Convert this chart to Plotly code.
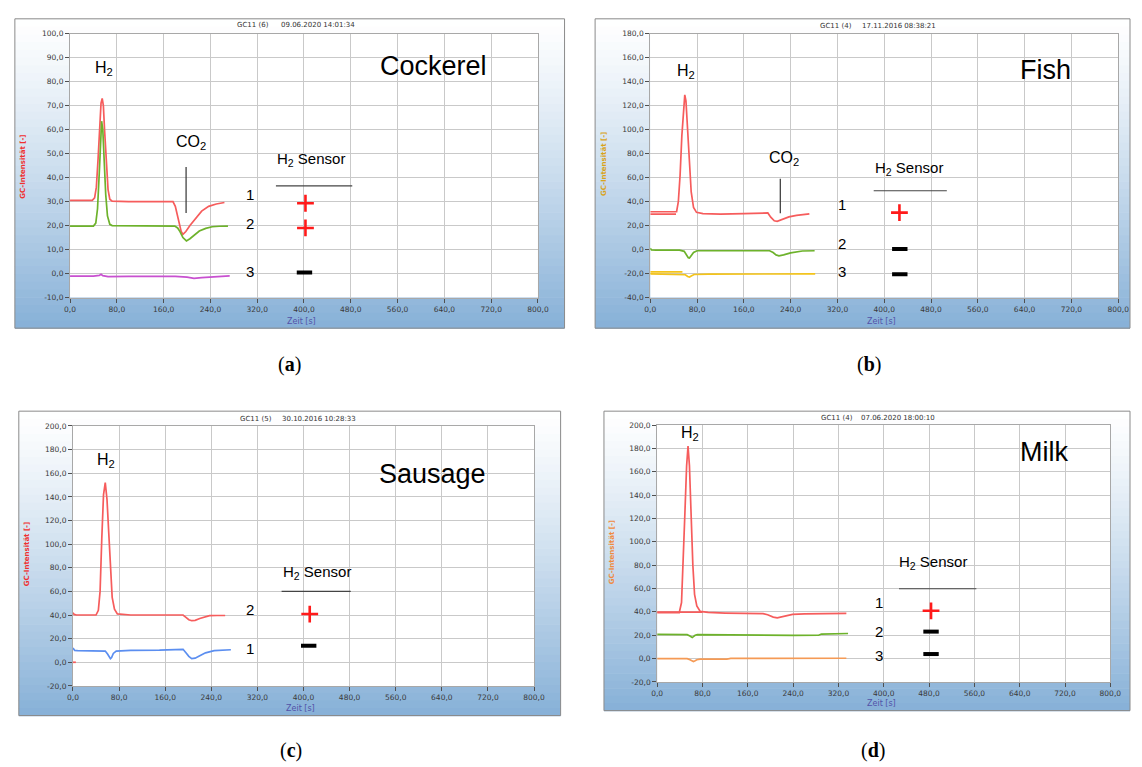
import plotly.graph_objects as go

W, H = 1142, 767

# ---------------- data ----------------
x_ticks = [0, 80, 160, 240, 320, 400, 480, 560, 640, 720, 800]
a_y_ticks = [-10, 0, 10, 20, 30, 40, 50, 60, 70, 80, 90, 100]
b_y_ticks = [-40, -20, 0, 20, 40, 60, 80, 100, 120, 140, 160, 180]
c_y_ticks = [-20, 0, 20, 40, 60, 80, 100, 120, 140, 160, 180, 200]
d_y_ticks = [-20, 0, 20, 40, 60, 80, 100, 120, 140, 160, 180, 200]


def fmt(v):
    return f"{v:.1f}".replace(".", ",")


# (a) Cockerel
a_red_t = [0, 38, 42, 45, 48, 51, 53, 55, 57, 59, 62, 65, 68, 72, 100, 140, 176, 180, 185, 190, 193, 198, 205, 215, 225, 237, 250, 264]
a_red_v = [30.5, 30.5, 31.5, 36, 48, 63, 71, 73, 70, 60, 45, 35, 31, 30.2, 30, 30, 30, 28, 22, 17.5, 16.3, 17.5, 20, 23.2, 26, 28, 29, 29.6]
a_green_t = [0, 40, 44, 47, 50, 52, 54, 56, 58, 61, 64, 68, 72, 100, 140, 179, 184, 188, 193, 199, 205, 212, 221, 232, 243, 255, 270]
a_green_v = [19.8, 19.8, 21, 27, 42, 56, 63.5, 60, 48, 33, 24, 20.5, 20, 20, 19.8, 19.8, 19, 17.5, 15, 13.6, 14.5, 16, 17.7, 18.8, 19.5, 19.7, 19.8]
a_mag_t = [0, 20, 40, 50, 53, 56, 65, 100, 140, 180, 200, 212, 225, 250, 273]
a_mag_v = [-1.1, -1.2, -1.1, -0.8, -0.3, -0.9, -1.3, -1.2, -1.1, -1.2, -1.5, -2.0, -1.7, -1.4, -1.0]

# (b) Fish
b_red_t = [0, 45, 48, 51, 54, 57, 59, 61, 64, 67, 70, 74, 79, 90, 120, 160, 201, 206, 212, 217, 225, 237, 250, 262, 272]
b_red_v = [31.5, 31.5, 40, 62, 95, 120, 129, 124, 100, 70, 48, 35, 31, 30, 29.5, 30, 30.5, 27, 24, 23.5, 25, 27.2, 28.5, 29.2, 29.8]
b_red2_t = [0, 44]
b_red2_v = [29.5, 29.5]
b_green_t = [0, 2, 10, 50, 58, 62, 65, 67, 70, 74, 80, 120, 160, 204, 210, 215, 220, 228, 240, 260, 281]
b_green_v = [1.2, -0.3, -0.5, -0.5, -1.5, -4.5, -6.8, -7.1, -5, -2.5, -1, -1, -1, -1, -2.5, -4.5, -5.2, -4.5, -2.8, -1.2, -1]
b_yel_t = [0, 50, 60, 64, 67, 70, 75, 100, 160, 220, 240, 282]
b_yel_v = [-20.3, -20.5, -21, -22.5, -23, -22, -20.8, -20.5, -20.5, -20.3, -20.5, -20.3]
b_yel2_t = [0, 55]
b_yel2_v = [-18.7, -18.7]

# (c) Sausage
c_red_t = [0, 2, 6, 40, 44, 47, 50, 53, 56, 59, 62, 65, 68, 72, 77, 100, 140, 191, 196, 201, 206, 212, 220, 237, 250, 264]
c_red_v = [42, 40.5, 40, 40, 44, 60, 105, 142, 152, 138, 110, 75, 55, 45, 41, 40, 40, 40, 38, 36, 35.2, 35.5, 37, 39.5, 39.6, 39.6]
c_red2_t = [0, 5]
c_red2_v = [0, 0]
c_blue_t = [0, 3, 8, 50, 56, 60, 63, 65, 67, 70, 75, 100, 150, 191, 196, 201, 206, 212, 220, 230, 245, 260, 274]
c_blue_v = [12, 10, 9.8, 9.8, 9.5, 7, 4.5, 3.1, 4, 7.5, 9.5, 10, 10.3, 11, 8, 5, 3.1, 3.5, 5.5, 8, 9.8, 10.3, 10.6]

# (d) Milk
d_red_t = [0, 39, 43, 46, 49, 52, 54.5, 57, 60, 63, 66, 70, 76, 90, 120, 160, 187, 195, 205, 212, 220, 239, 260, 300, 334]
d_red_v = [39.3, 39.3, 48, 80, 125, 165, 182, 165, 120, 80, 55, 45, 40.4, 39.5, 39, 38.8, 38.5, 37.5, 35.5, 34.8, 35.8, 37.9, 38.3, 38.5, 38.7]
d_red2_t = [0, 80]
d_red2_v = [39.8, 39.8]
d_green_t = [0, 53, 57, 60, 62, 64, 67, 71, 100, 117, 200, 215, 240, 285, 290, 337]
d_green_v = [20.8, 20.5, 19.5, 18.5, 18.1, 18.8, 20, 20.5, 20.3, 20, 20, 19.5, 19.8, 20, 21, 21.5]
d_orange_t = [0, 53, 58, 61, 64, 67, 70, 76, 100, 123, 130, 233, 240, 300, 334]
d_orange_v = [0, 0, -1, -2, -2.5, -1.8, -1, -0.5, -0.5, -0.4, 0.2, 0.3, 0.6, 0.6, 0.3]

sample_names = ["Cockerel", "Fish", "Sausage", "Milk"]
headers = [("GC11 (6)", "09.06.2020 14:01:34"), ("GC11 (4)", "17.11.2016 08:38:21"),
           ("GC11 (5)", "30.10.2016 10:28:33"), ("GC11 (4)", "07.06.2020 18:00:10")]
panel_letters = ["a", "b", "c", "d"]
# sensor response signs per panel: (label, sign)
sensor_a = [("1", "+"), ("2", "+"), ("3", "-")]
sensor_b = [("1", "+"), ("2", "-"), ("3", "-")]
sensor_c = [("2", "+"), ("1", "-")]
sensor_d = [("1", "+"), ("2", "-"), ("3", "-")]

RED = "#f65c5c"
GREEN = "#6db22b"
MAGENTA = "#c850d0"
YELLOW = "#f4c41a"
BLUE = "#5b8ef0"
ORANGE = "#f59a55"

LABEL_FONT = "Liberation Sans, Arial, sans-serif"
SMALL_FONT = "DejaVu Sans, Verdana, sans-serif"

# ---------------- layout geometry (pixels) ----------------
panels = [
    dict(id=1, plot=(65, 540, 30, 297), box=(9, 567, 15, 328), yr=(-10, 100), yt=a_y_ticks,
         ycol="#f03030", ytitle=(17, 165), xtitle=(300, 321), hdr=(250.5, 317, 21), lab=(288, 365),
         traces=[(a_red_t, a_red_v, RED), (a_green_t, a_green_v, GREEN), (a_mag_t, a_mag_v, MAGENTA)],
         sensor=sensor_a),
    dict(id=2, plot=(654, 1129, 30, 297), box=(598, 1141, 15, 328), yr=(-40, 180), yt=b_y_ticks,
         ycol="#d9a31a", ytitle=(607, 162), xtitle=(889, 321), hdr=(843, 906.5, 22), lab=(876, 365),
         traces=[(b_red_t, b_red_v, RED), (b_red2_t, b_red2_v, RED), (b_green_t, b_green_v, GREEN),
                 (b_yel_t, b_yel_v, YELLOW), (b_yel2_t, b_yel2_v, YELLOW)],
         sensor=sensor_b),
    dict(id=3, plot=(68, 536, 427, 690), box=(13, 563, 412, 720), yr=(-20, 200), yt=c_y_ticks,
         ycol="#f03030", ytitle=(22, 557), xtitle=(299, 713), hdr=(253.5, 317.5, 420), lab=(289, 755),
         traces=[(c_red_t, c_red_v, RED), (c_red2_t, c_red2_v, RED), (c_blue_t, c_blue_v, BLUE)],
         sensor=sensor_c),
    dict(id=4, plot=(661, 1121, 426, 686), box=(607, 1141, 412, 715), yr=(-20, 200), yt=d_y_ticks,
         ycol="#f08a40", ytitle=(616, 555), xtitle=(889, 708), hdr=(844, 905.5, 419), lab=(880, 755),
         traces=[(d_red_t, d_red_v, RED), (d_red2_t, d_red2_v, RED), (d_green_t, d_green_v, GREEN),
                 (d_orange_t, d_orange_v, ORANGE)],
         sensor=sensor_d),
]

# annotation placements in data units (per panel)
place = {
    1: dict(h2=(57.5, 85.6), co2=(206.8, 54.7), co2line=(198.4, 25.2, 44.4),
            sens=(411.7, 47.7), sensline=(352, 482.5, 36.5), name=(621.7, 86.4),
            nums=[(308, 33.0), (308, 20.9), (308, 0.7)],
            signs=[(402.5, 29.3), (402.5, 19.0), (400.8, 0.4)]),
    2: dict(h2=(60.6, 148.4), co2=(229, 75.6), co2line=(222.3, 30.3, 59.1),
            sens=(442, 67.4), sensline=(382, 507, 49), name=(676, 149.3),
            nums=[(327, 37.2), (327, 5.0), (327, -18.3)],
            signs=[(426, 30.8), (426.6, 0.4), (426.6, -20.5)]),
    3: dict(h2=(57.6, 171), co2=None, co2line=None,
            sens=(424, 76.2), sensline=(362, 482, 60), name=(624, 159.3),
            nums=[(308, 44.7), (308, 11.5)],
            signs=[(410.8, 40.8), (409, 14.0)]),
    4: dict(h2=(57.4, 192.4), co2=None, co2line=None,
            sens=(487, 82.4), sensline=(427, 563.5, 59.8), name=(683, 176.9),
            nums=[(392.5, 47.7), (392.5, 23.2), (392.5, 2.8)],
            signs=[(483.5, 40.9), (483.5, 23.1), (483.5, 3.9)]),
}

fig = go.Figure()
shapes = []
annotations = []
layout_axes = {}


def lerp_col(t):
    top = (255, 255, 255)
    bot = (134, 176, 215)
    f = t ** 1.2
    return "rgb(%d,%d,%d)" % tuple(round(top[k] + (bot[k] - top[k]) * f) for k in range(3))


def paper_text(x, y, text, font, angle=0):
    return dict(x=x / W, y=1 - y / H, xref="paper", yref="paper", text=text, showarrow=False,
                xanchor="center", yanchor="middle", textangle=angle, font=font)


for k, p in enumerate(panels):
    i = p["id"]
    xa = "x" if i == 1 else f"x{i}"
    ya = "y" if i == 1 else f"y{i}"
    x0, x1, y0, y1 = p["plot"]
    bx0, bx1, by0, by1 = p["box"]

    # gradient background of panel
    n = 40
    for s in range(n):
        ya0 = by0 + (by1 - by0) * s / n
        ya1 = by0 + (by1 - by0) * (s + 1) / n + 0.6
        shapes.append(dict(type="rect", xref="paper", yref="paper", layer="below",
                           x0=bx0 / W, x1=bx1 / W, y0=1 - ya1 / H, y1=1 - ya0 / H,
                           fillcolor=lerp_col((s + 0.5) / n), line=dict(width=0)))
    shapes.append(dict(type="rect", xref="paper", yref="paper", layer="below",
                       x0=x0 / W, x1=x1 / W, y0=1 - y1 / H, y1=1 - y0 / H,
                       fillcolor="white", line=dict(width=0)))
    shapes.append(dict(type="rect", xref="paper", yref="paper", layer="below",
                       x0=bx0 / W, x1=bx1 / W, y0=1 - by1 / H, y1=1 - by0 / H,
                       fillcolor="rgba(0,0,0,0)", line=dict(width=1, color="#8a8a8a")))

    layout_axes["xaxis" if i == 1 else f"xaxis{i}"] = dict(
        domain=[x0 / W, x1 / W], range=[0, 800], anchor=ya,
        tickvals=x_ticks, ticktext=[fmt(v) for v in x_ticks],
        showgrid=True, gridcolor="#c9c9c9", gridwidth=1.3, zeroline=False,
        showline=True, linecolor="#a8a8a8", linewidth=1, mirror=True,
        ticks="outside", ticklen=4, tickcolor="#505050",
        tickfont=dict(family=SMALL_FONT, size=7.5, color="#3a3a3a"), fixedrange=True)
    layout_axes["yaxis" if i == 1 else f"yaxis{i}"] = dict(
        domain=[1 - y1 / H, 1 - y0 / H], range=list(p["yr"]), anchor=xa,
        tickvals=p["yt"], ticktext=[fmt(v) for v in p["yt"]],
        showgrid=True, gridcolor="#c9c9c9", gridwidth=1.3, zeroline=False,
        showline=True, linecolor="#a8a8a8", linewidth=1, mirror=True,
        ticks="outside", ticklen=4, tickcolor="#505050",
        tickfont=dict(family=SMALL_FONT, size=7.5, color="#3a3a3a"), fixedrange=True)

    for (tt, vv, col) in p["traces"]:
        fig.add_trace(go.Scatter(x=tt, y=vv, mode="lines", xaxis=xa, yaxis=ya,
                                 line=dict(color=col, width=1.7), hoverinfo="skip", showlegend=False))

    pl = place[i]
    # H2 peak label
    annotations.append(dict(x=pl["h2"][0], y=pl["h2"][1], xref=xa, yref=ya, text="H<sub>2</sub>",
                            showarrow=False, xanchor="center", yanchor="middle",
                            font=dict(family=LABEL_FONT, size=16, color="black")))
    if pl["co2"]:
        annotations.append(dict(x=pl["co2"][0], y=pl["co2"][1], xref=xa, yref=ya, text="CO<sub>2</sub>",
                                showarrow=False, xanchor="center", yanchor="middle",
                                font=dict(family=LABEL_FONT, size=16, color="black")))
        cx, cy0, cy1 = pl["co2line"]
        shapes.append(dict(type="line", xref=xa, yref=ya, x0=cx, x1=cx, y0=cy0, y1=cy1,
                           line=dict(color="#333333", width=1.2)))
    annotations.append(dict(x=pl["sens"][0], y=pl["sens"][1], xref=xa, yref=ya, text="H<sub>2</sub> Sensor",
                            showarrow=False, xanchor="center", yanchor="middle",
                            font=dict(family=LABEL_FONT, size=15, color="black")))
    sx0, sx1, sy = pl["sensline"]
    shapes.append(dict(type="line", xref=xa, yref=ya, x0=sx0, x1=sx1, y0=sy, y1=sy,
                       line=dict(color="#444444", width=1.2)))
    annotations.append(dict(x=pl["name"][0], y=pl["name"][1], xref=xa, yref=ya, text=sample_names[k],
                            showarrow=False, xanchor="center", yanchor="middle",
                            font=dict(family=LABEL_FONT, size=27, color="black")))
    plus_x, plus_y, minus_x, minus_y = [], [], [], []
    for (lab, sign), (nx, ny), (gx, gy) in zip(p["sensor"], pl["nums"], pl["signs"]):
        annotations.append(dict(x=nx, y=ny, xref=xa, yref=ya, text=lab, showarrow=False,
                                xanchor="center", yanchor="middle",
                                font=dict(family=LABEL_FONT, size=15, color="black")))
        if sign == "+":
            plus_x.append(gx); plus_y.append(gy)
        else:
            minus_x.append(gx); minus_y.append(gy)
    if plus_x:
        fig.add_trace(go.Scatter(x=plus_x, y=plus_y, mode="markers", xaxis=xa, yaxis=ya,
                                 marker=dict(symbol="cross-thin", size=12, color="#ff1a1a",
                                             line=dict(color="#ff1a1a", width=2.6)),
                                 hoverinfo="skip", showlegend=False))
    if minus_x:
        fig.add_trace(go.Scatter(x=minus_x, y=minus_y, mode="markers", xaxis=xa, yaxis=ya,
                                 marker=dict(symbol="line-ew", size=11, color="black",
                                             line=dict(color="black", width=4)),
                                 hoverinfo="skip", showlegend=False))

    # axis titles, header, panel letter (paper coordinates)
    annotations.append(paper_text(p["ytitle"][0], p["ytitle"][1], "<b>GC-Intensität [-]</b>",
                                  dict(family=SMALL_FONT, size=7, color=p["ycol"]), angle=-90))
    annotations.append(paper_text(p["xtitle"][0], p["xtitle"][1], "Zeit [s]",
                                  dict(family=SMALL_FONT, size=8, color="#5252a8")))
    h1, h2 = headers[k]
    annotations.append(paper_text(p["hdr"][0], p["hdr"][2], h1,
                                  dict(family=SMALL_FONT, size=7, color="#333333")))
    annotations.append(paper_text(p["hdr"][1], p["hdr"][2], h2,
                                  dict(family=SMALL_FONT, size=7, color="#333333")))
    annotations.append(paper_text(p["lab"][0], p["lab"][1], f"(<b>{panel_letters[k]}</b>)",
                                  dict(family="Liberation Serif, Times New Roman, serif", size=20, color="black")))

fig.update_layout(
    width=W, height=H, autosize=False,
    margin=dict(l=0, r=0, t=0, b=0),
    paper_bgcolor="white", plot_bgcolor="white",
    shapes=shapes, annotations=annotations,
    showlegend=False,
    **layout_axes,
)

fig.write_html("out.html", config={"displayModeBar": False},
               post_script="document.body.style.margin='0';document.body.style.overflow='hidden';")
